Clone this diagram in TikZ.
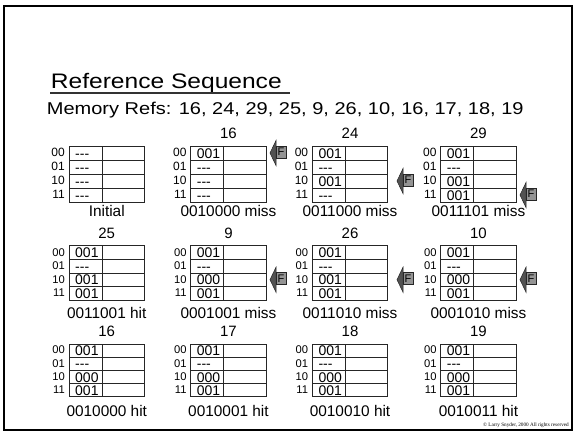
\documentclass[tikz,border=0pt]{standalone}
\usepackage{fontspec}
\setmainfont{Liberation Sans}
\newfontfamily\stretchsans[FakeStretch=1.17]{Liberation Sans}
\newfontfamily\copyfont{Liberation Serif}
\newcommand{\emptytag}{-{}-{}-}
\newcommand{\capoff}{15}
\newcommand{\cachetab}[9]{%
  \node[hdrtext, anchor=base] (#1-h) at ({#2+37.75},{#3-7}) {#5};
  \foreach \e [count=\i from 0] in {#7} {
    \node[tagcell, minimum height=#4, anchor=north west] (#1-t\i) at (#2,{#3+\i*#4}) {};
    \node[datacell, minimum height=#4, anchor=north west] (#1-d\i) at (#1-t\i.north east) {};
    \node[celltext, anchor=base west] (#1-x\i) at ([xshift=6pt,yshift=1.6pt]#1-t\i.south west) {\e};
    \node[rowlab, anchor=base east] (#1-l\i) at ([xshift=-4pt,yshift=3.2pt]#1-t\i.south west) {\ifcase\i\relax 00\or 01\or 10\or 11\fi};
  }
  \node[captext, anchor=base] (#1-c) at ({#2+37.75},{#3+4*#4+\capoff}) {#6};
  \ifnum#8>-1
    \coordinate (#1-tip) at (#9,{#3+(#8+0.5)*#4});
    \filldraw[headstyle] (#1-tip) -- ++(6,-12.5) -- ++(0,25) -- cycle;
    \node[fbox, anchor=west] (#1-f) at ([xshift=6pt,yshift=1pt]#1-tip) {F};
  \fi
}
\begin{document}
\begin{tikzpicture}[x=1pt,y=-1pt,
  tagcell/.style={draw=black!85, line width=0.7pt, minimum width=33pt, inner sep=0pt, outer sep=0pt},
  datacell/.style={draw=black!85, line width=0.7pt, minimum width=42.5pt, inner sep=0pt, outer sep=0pt},
  celltext/.style={inner sep=0pt, font=\fontsize{14}{14}\selectfont},
  rowlab/.style={inner sep=0pt, font=\fontsize{12}{12}\selectfont},
  hdrtext/.style={inner sep=0pt, font=\fontsize{15}{15}\selectfont},
  captext/.style={inner sep=0pt, font=\fontsize{15.4}{15.4}\selectfont},
  headstyle/.style={fill=black!68, draw=black!85, line width=0.5pt},
  fbox/.style={fill=black!42, draw=black!85, text=black, line width=0.5pt, minimum width=9.5pt, minimum height=12pt, inner sep=0pt, font=\fontsize{11}{11}\selectfont}]
\useasboundingbox (0,0) rectangle (574,433);
\draw[line width=2.2pt] (4.2,5.7) rectangle (572,430.3);
\node[inner sep=0pt, anchor=base west, font=\fontsize{21}{21}\stretchsans] (title) at (50.7,89) {Reference Sequence};
\draw[line width=1.5pt, black!80] (50,93) -- (290,93);
\node[inner sep=0pt, anchor=base west, font=\fontsize{17.1}{17.1}\stretchsans] (refs) at (46.7,115) {Memory Refs: 16, 24, 29, 25, 9, 26, 10, 16, 17, 18, 19};
% row 1
\cachetab{a1}{69}{146}{14}{}{Initial}{\emptytag,\emptytag,\emptytag,\emptytag}{-1}{0}
\cachetab{a2}{190.7}{146}{14}{16}{0010000 miss}{001,\emptytag,\emptytag,\emptytag}{0}{270}
\cachetab{a3}{312.3}{146}{14}{24}{0011000 miss}{001,\emptytag,001,\emptytag}{2}{397}
\cachetab{a4}{440.7}{146}{14}{29}{0011101 miss}{001,\emptytag,001,001}{3}{520}
\begin{scope}[rowlab/.style={inner sep=0pt, font=\fontsize{11.2}{11.2}\selectfont}]
% row 2
\renewcommand{\capoff}{18.5}
\cachetab{b1}{69}{245.7}{13.6}{25}{0011001 hit}{001,\emptytag,001,001}{-1}{0}
\cachetab{b2}{190.7}{245.7}{13.6}{9}{0001001 miss}{001,\emptytag,000,001}{2}{270}
\cachetab{b3}{312.3}{245.7}{13.6}{26}{0011010 miss}{001,\emptytag,001,001}{2}{397}
\cachetab{b4}{440.7}{245.7}{13.6}{10}{0001010 miss}{001,\emptytag,000,001}{2}{520}
% row 3
\renewcommand{\capoff}{19.5}
\cachetab{c1}{69}{344}{13.2}{16}{0010000 hit}{001,\emptytag,000,001}{-1}{0}
\cachetab{c2}{190.7}{344}{13.2}{17}{0010001 hit}{001,\emptytag,000,001}{-1}{0}
\cachetab{c3}{312.3}{344}{13.2}{18}{0010010 hit}{001,\emptytag,000,001}{-1}{0}
\cachetab{c4}{440.7}{344}{13.2}{19}{0010011 hit}{001,\emptytag,000,001}{-1}{0}
\end{scope}
\node[inner sep=0pt, anchor=base east, font=\fontsize{5.2}{5.2}\copyfont] (copy) at (569,427) {\textcopyright{} Larry Snyder, 2000 All rights reserved};
\end{tikzpicture}
\end{document}
